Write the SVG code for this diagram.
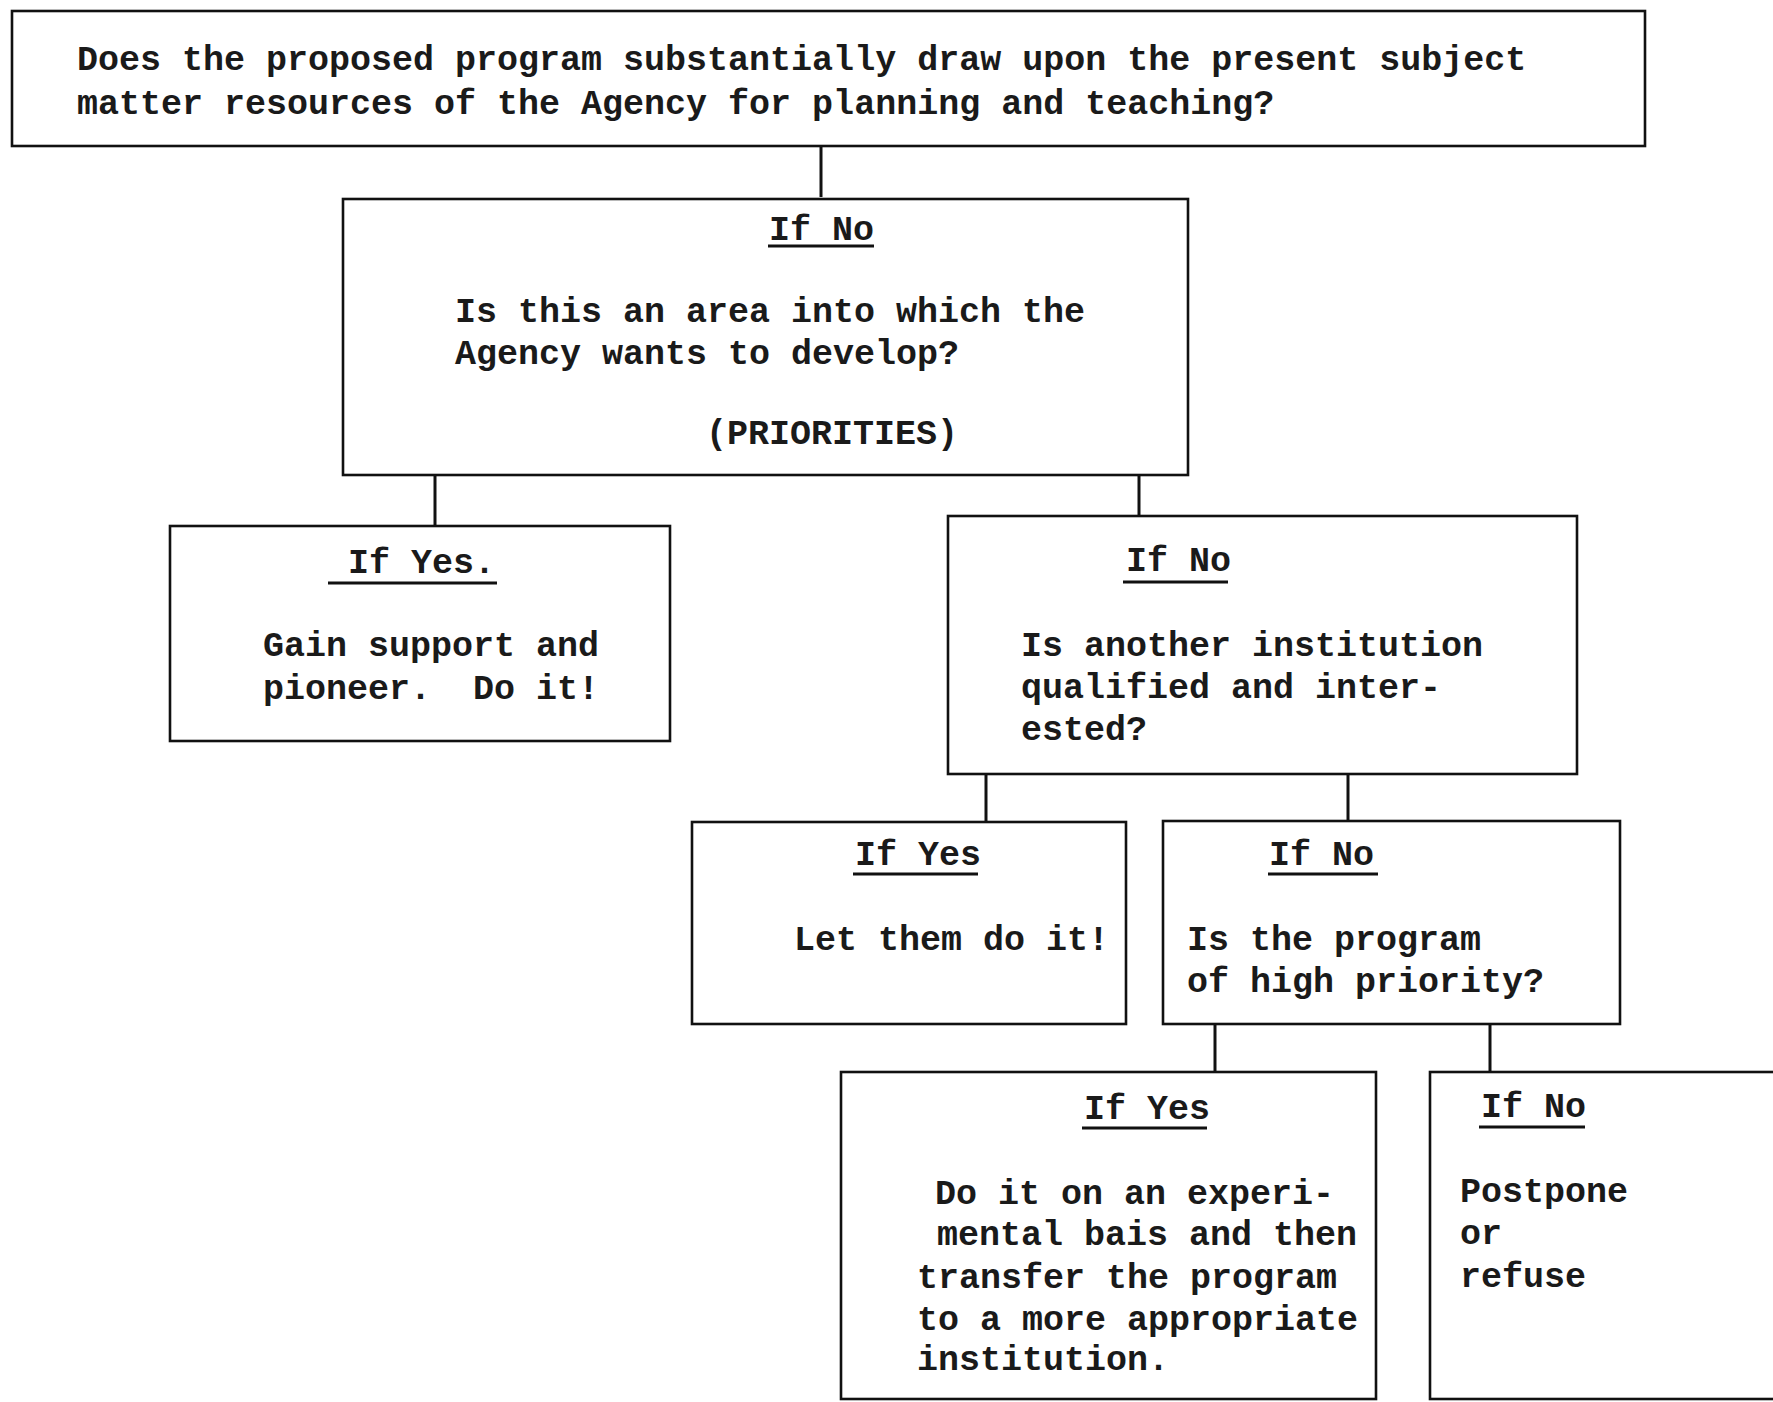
<svg xmlns="http://www.w3.org/2000/svg" width="1773" height="1402" viewBox="0 0 1773 1402">
<style>
.box{fill:#fff;stroke:#111;stroke-width:2.6}
.t{font-family:"Liberation Mono","Courier New",monospace;font-size:35px;font-weight:bold;fill:#1a1a1a;white-space:pre}
.ul{stroke:#111;stroke-width:3}
.c{stroke:#111;stroke-width:3;fill:none}
</style>
<rect width="1773" height="1402" fill="#fff"/>
<g id="connectors">
<line class="c" x1="821" y1="147" x2="821" y2="197"/>
<line class="c" x1="435" y1="475" x2="435" y2="526"/>
<line class="c" x1="1139" y1="475" x2="1139" y2="517"/>
<line class="c" x1="986" y1="775" x2="986" y2="822"/>
<line class="c" x1="1348" y1="770" x2="1348" y2="822"/>
<line class="c" x1="1215" y1="1024" x2="1215" y2="1072"/>
<line class="c" x1="1490" y1="1024" x2="1490" y2="1072"/>
</g>
<g id="n1">
<rect class="box" x="12" y="11" width="1633" height="135"/>
<text class="t" x="77" y="70">Does the proposed program substantially draw upon the present subject</text>
<text class="t" x="77" y="114">matter resources of the Agency for planning and teaching?</text>
</g>
<g id="n2">
<rect class="box" x="343" y="199" width="845" height="276"/>
<text class="t" x="769" y="240">If No</text>
<line class="ul" x1="768" y1="246" x2="874" y2="246"/>
<text class="t" x="455" y="322">Is this an area into which the</text>
<text class="t" x="455" y="364">Agency wants to develop?</text>
<text class="t" x="706" y="444">(PRIORITIES)</text>
</g>
<g id="n3">
<rect class="box" x="170" y="526" width="500" height="215"/>
<text class="t" x="348" y="573">If Yes.</text>
<line class="ul" x1="328" y1="583" x2="497" y2="583"/>
<text class="t" x="263" y="656">Gain support and</text>
<text class="t" x="263" y="699" xml:space="preserve">pioneer.  Do it!</text>
</g>
<g id="n4">
<rect class="box" x="948" y="516" width="629" height="258"/>
<text class="t" x="1126" y="571">If No</text>
<line class="ul" x1="1123" y1="582" x2="1228" y2="582"/>
<text class="t" x="1021" y="656">Is another institution</text>
<text class="t" x="1021" y="698">qualified and inter-</text>
<text class="t" x="1021" y="740">ested?</text>
</g>
<g id="n5">
<rect class="box" x="692" y="822" width="434" height="202"/>
<text class="t" x="855" y="865">If Yes</text>
<line class="ul" x1="853" y1="874" x2="978" y2="874"/>
<text class="t" x="794" y="950">Let them do it!</text>
</g>
<g id="n6">
<rect class="box" x="1163" y="821" width="457" height="203"/>
<text class="t" x="1269" y="865">If No</text>
<line class="ul" x1="1268" y1="874" x2="1378" y2="874"/>
<text class="t" x="1187" y="950">Is the program</text>
<text class="t" x="1187" y="992">of high priority?</text>
</g>
<g id="n7">
<rect class="box" x="841" y="1072" width="535" height="327"/>
<text class="t" x="1084" y="1119">If Yes</text>
<line class="ul" x1="1082" y1="1128" x2="1207" y2="1128"/>
<text class="t" x="935" y="1204">Do it on an experi-</text>
<text class="t" x="937" y="1245">mental bais and then</text>
<text class="t" x="917" y="1288">transfer the program</text>
<text class="t" x="917" y="1330">to a more appropriate</text>
<text class="t" x="917" y="1370">institution.</text>
</g>
<g id="n8">
<rect class="box" x="1430" y="1072" width="400" height="327"/>
<text class="t" x="1481" y="1117">If No</text>
<line class="ul" x1="1479" y1="1127" x2="1585" y2="1127"/>
<text class="t" x="1460" y="1202">Postpone</text>
<text class="t" x="1460" y="1244">or</text>
<text class="t" x="1460" y="1287">refuse</text>
</g>
</svg>
